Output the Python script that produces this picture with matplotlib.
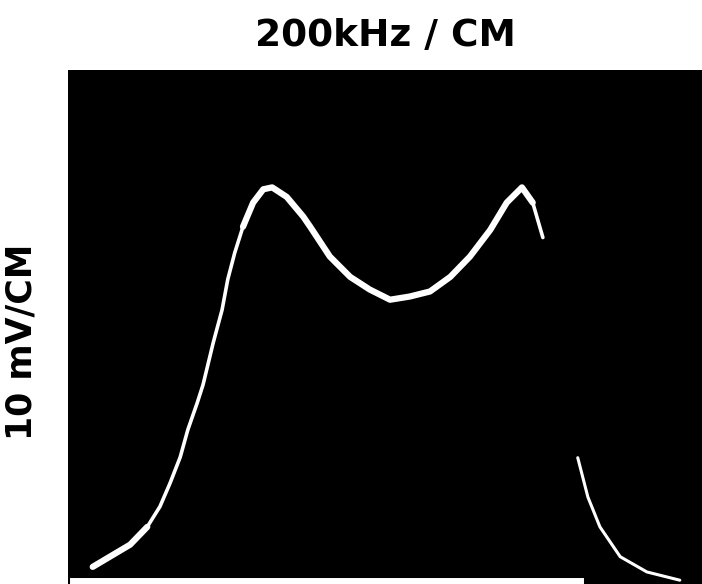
import numpy as np
import matplotlib.pyplot as plt

# screen position in cm (x) and deflection in cm (y)
rise_x = [0.39, 0.71, 0.98, 1.25, 1.45, 1.61, 1.77, 1.89, 2.04, 2.13, 2.29, 2.43,
          2.52, 2.63, 2.76, 2.92, 3.08, 3.22, 3.45, 3.71, 3.82, 4.13, 4.45, 4.76,
          5.08, 5.39, 5.71, 6.03, 6.34, 6.66, 6.92, 7.16, 7.33, 7.49]
rise_y = [0.27, 0.46, 0.62, 0.90, 1.22, 1.59, 2.00, 2.43, 2.86, 3.14, 3.80, 4.32,
          4.80, 5.22, 5.63, 6.01, 6.22, 6.25, 6.10, 5.79, 5.63, 5.16, 4.84, 4.64,
          4.48, 4.53, 4.61, 4.84, 5.16, 5.58, 6.01, 6.25, 6.01, 5.46]

tail_x = [8.04, 8.20, 8.39, 8.71, 9.13, 9.65]
tail_y = [1.99, 1.37, 0.90, 0.43, 0.19, 0.06]

base_x = [0.08, 8.08]
base_y = [0.055, 0.055]

fig = plt.figure(figsize=(7.02, 5.84), dpi=100)
ax = fig.add_axes([68 / 702, 0, 1 - 68 / 702, 514 / 584])
ax.set_facecolor('black')

# thin on the steep flank, heavier where the beam moves slowly
ax.plot(rise_x, rise_y, color='white', lw=2.6, solid_capstyle='round', solid_joinstyle='round')
ax.plot(rise_x[:4], rise_y[:4], color='white', lw=4.5, solid_capstyle='round', solid_joinstyle='round')
ax.plot(rise_x[14:33], rise_y[14:33], color='white', lw=4.5, solid_capstyle='round', solid_joinstyle='round')
ax.plot(tail_x, tail_y, color='white', lw=2.2, solid_capstyle='round')
ax.plot(base_x, base_y, color='white', lw=5)

ax.set_xlim(0, 10)
ax.set_ylim(0, 8.1)
ax.set_xticks([])
ax.set_yticks([])
for s in ax.spines.values():
    s.set_visible(False)

fig.text(385 / 702, 1 - 36 / 584, '200kHz / CM', ha='center', va='center',
         fontsize=27, fontweight='bold', family='DejaVu Sans')
fig.text(22 / 702, 1 - 342 / 584, '10 mV/CM', ha='center', va='center',
         rotation=90, fontsize=25, fontweight='bold', family='DejaVu Sans')

fig.savefig('out.png', dpi=100)
